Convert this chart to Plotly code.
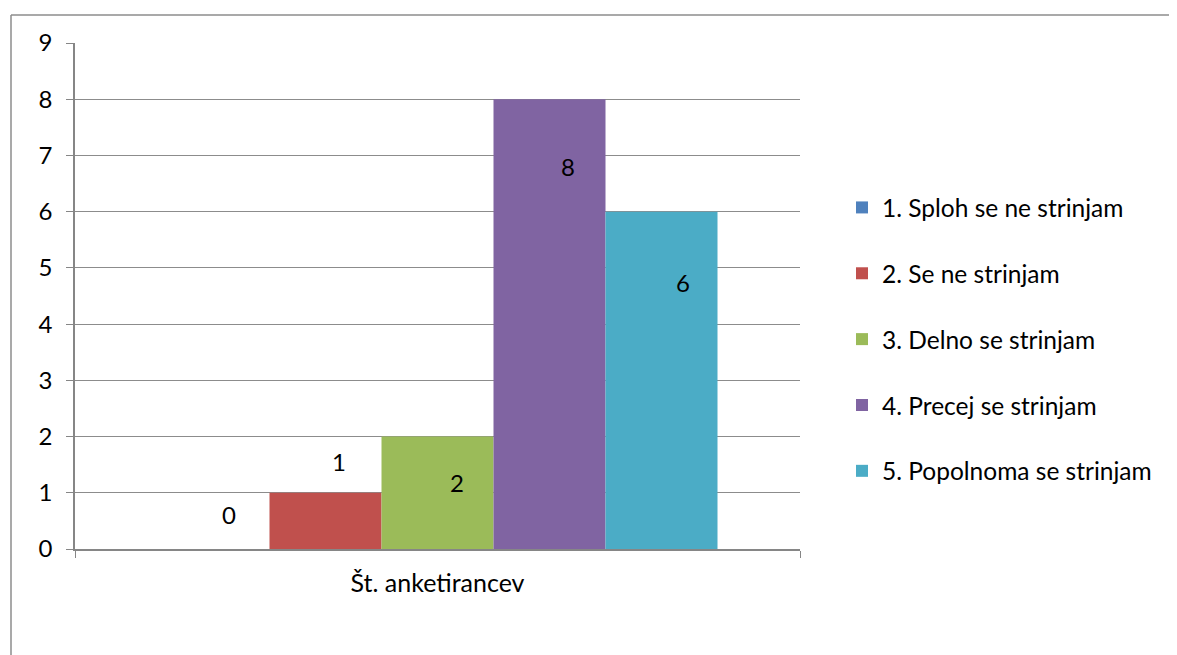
import plotly.graph_objects as go

categories = ["Št. anketirancev"]
series_names = ["1. Sploh se ne strinjam", "2. Se ne strinjam", "3. Delno se strinjam",
                "4. Precej se strinjam", "5. Popolnoma se strinjam"]
series_values = [0, 1, 2, 8, 6]
colors = ["#4F81BD", "#C0504D", "#9BBB59", "#8064A2", "#4BACC6"]
y_ticks = list(range(0, 10))
# label offsets in pixels (relative to bar top / bar centre), style only
label_yshift = [35, 31, -46, -67, -71]
label_xshift = [15, 13, 19, 18, 21]

FONT = "Lato"
FS = 24
bargap = 0.2276

fig = go.Figure()
for i, (name, val, col) in enumerate(zip(series_names, series_values, colors)):
    fig.add_trace(go.Bar(
        x=categories, y=[val], name=name, marker=dict(color=col, line=dict(width=0)),
        legendgroup=f"g{i}", hoverinfo="skip",
    ))

n = len(series_values)
bw = (1 - bargap) / n
for i, val in enumerate(series_values):
    xc = -0.5 + bargap / 2 + (i + 0.5) * bw
    fig.add_annotation(x=xc, y=val, xref="x", yref="y", text=str(val), showarrow=False,
                       xshift=label_xshift[i], yshift=label_yshift[i],
                       font=dict(family=FONT, size=FS, color="black"))

# page offset (body margin) = 8px
OFF = 8
FW, FH = 1177 - OFF, 655 - OFF
L, R, T, B = 75 - OFF, FW - (800 - OFF), 43 - OFF, FH - (549 - OFF)
W, H = FW - L - R, FH - T - B
def px_x(p):
    return (p - OFF - L) / W
def px_y(p):
    return (FH - B - (p - OFF)) / H

fig.add_shape(type="line", xref="paper", yref="paper", x0=px_x(11), x1=px_x(1190), y0=px_y(15), y1=px_y(15),
              line=dict(color="#8c8c8c", width=1.5))
fig.add_shape(type="line", xref="paper", yref="paper", x0=px_x(11), x1=px_x(11), y0=px_y(15), y1=px_y(670),
              line=dict(color="#8c8c8c", width=1.5))

fig.update_layout(
    width=FW, height=FH,
    margin=dict(l=L, r=R, t=T, b=B),
    paper_bgcolor="white", plot_bgcolor="white",
    barmode="group", bargap=bargap, bargroupgap=0,
    font=dict(family=FONT, size=FS, color="black"),
    showlegend=True,
    legend=dict(x=px_x(842), xanchor="left", y=px_y(339.5), yanchor="middle",
                font=dict(family=FONT, size=24.5, color="black"),
                tracegroupgap=31, traceorder="grouped", bgcolor="rgba(0,0,0,0)"),
    xaxis=dict(type="category", range=[-0.5, 0.5], showline=True, linecolor="#868686", linewidth=1.5,
               ticks="outside", tickson="boundaries", ticklen=7, tickcolor="#868686", tickwidth=1,
               showgrid=False, tickfont=dict(family=FONT, size=25, color="black"),
               ticklabelstandoff=11, fixedrange=True),
    yaxis=dict(range=[0, 9], tickvals=y_ticks, showline=True, linecolor="#868686", linewidth=1.5,
               ticks="outside", ticklen=7, tickcolor="#868686", tickwidth=1,
               showgrid=True, gridcolor="#8c8c8c", gridwidth=1, zeroline=False,
               tickfont=dict(family=FONT, size=FS, color="black"), ticklabelstandoff=9),
)

fig.write_html("out.html")
